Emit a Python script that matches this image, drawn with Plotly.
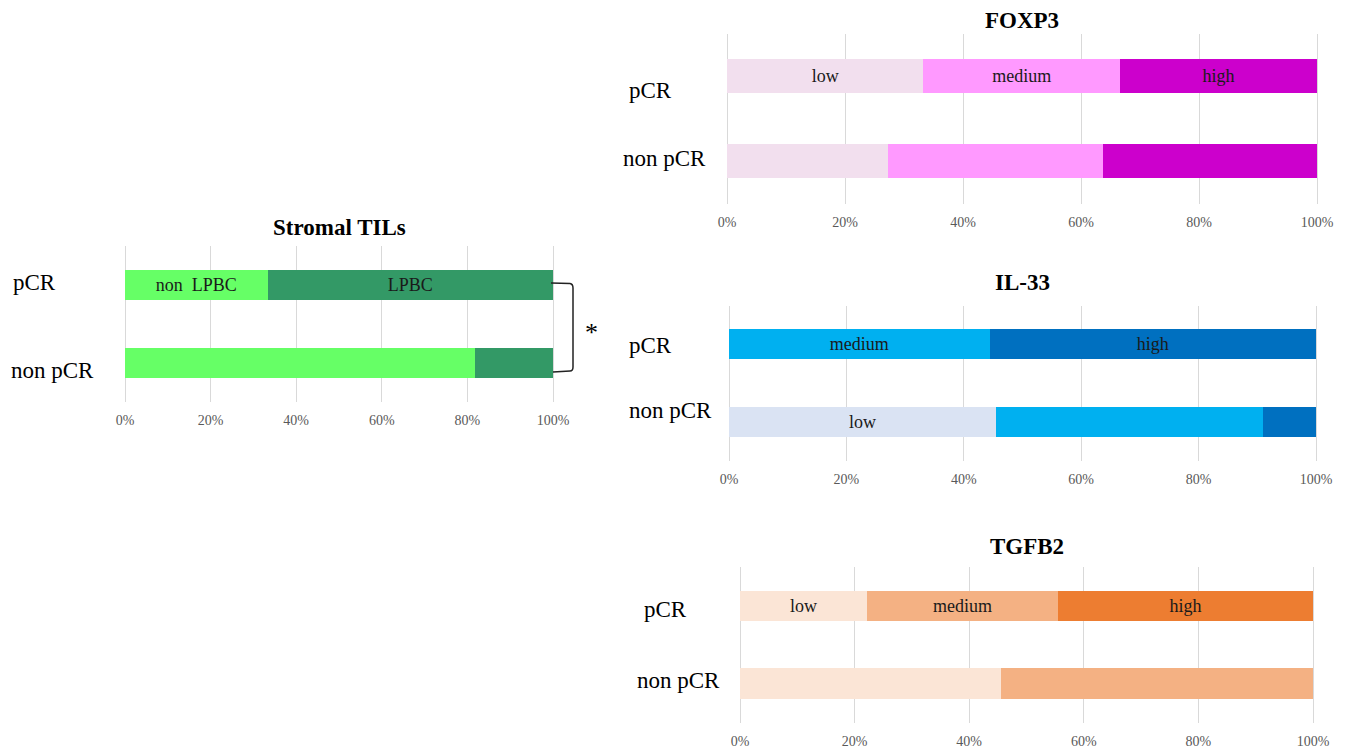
import plotly.graph_objects as go

W, H = 1345, 747

groups = ["non pCR", "pCR"]

# Stromal TILs (% of patients)
til_labels = ["non  LPBC", "LPBC"]
til_non_lpbc = [81.8, 33.3]
til_lpbc = [18.2, 66.7]

# FOXP3 expression (% of patients)
foxp3_low = [27.3, 33.3]
foxp3_medium = [36.4, 33.3]
foxp3_high = [36.3, 33.4]

# IL-33 expression (% of patients)
il33_low = [45.5, 0.0]
il33_medium = [45.4, 44.4]
il33_high = [9.1, 55.6]

# TGFB2 expression (% of patients)
tgfb2_low = [45.5, 22.2]
tgfb2_medium = [54.5, 33.3]
tgfb2_high = [0.0, 44.5]

tick_vals = [0, 20, 40, 60, 80, 100]
tick_text = ["0%", "20%", "40%", "60%", "80%", "100%"]

SERIF = "Liberation Serif"


def px(x):
    return x / W


def py(y):
    return 1 - y / H


fig = go.Figure()


def add_bar(vals, color, texts, axis):
    fig.add_trace(go.Bar(
        y=groups, x=vals, orientation="h",
        marker=dict(color=color, line=dict(width=0)),
        text=texts, textposition="inside", insidetextanchor="middle",
        textfont=dict(family=SERIF, size=18, color="#1a1a1a"),
        constraintext="none",
        xaxis="x" + axis, yaxis="y" + axis,
        showlegend=False, hoverinfo="x+y",
    ))


# Stromal TILs
add_bar(til_non_lpbc, "#66FF66", ["", til_labels[0]], "")
add_bar(til_lpbc, "#339966", ["", til_labels[1]], "")
# FOXP3
add_bar(foxp3_low, "#F2DFEE", ["", "low"], "2")
add_bar(foxp3_medium, "#FF99FF", ["", "medium"], "2")
add_bar(foxp3_high, "#CC00CC", ["", "high"], "2")
# IL-33
add_bar(il33_low, "#DAE3F3", ["low", ""], "3")
add_bar(il33_medium, "#00B0F0", ["", "medium"], "3")
add_bar(il33_high, "#0070C0", ["", "high"], "3")
# TGFB2
add_bar(tgfb2_low, "#FBE5D6", ["", "low"], "4")
add_bar(tgfb2_medium, "#F4B183", ["", "medium"], "4")
add_bar(tgfb2_high, "#ED7D31", ["", "high"], "4")

# panel frames in pixels: (x of 0%, x of 100%, top, bottom)
panels = {
    "": (125, 553, 246, 402),
    "2": (727, 1317, 33.5, 203.5),
    "3": (729, 1316, 305.5, 460.5),
    "4": (740, 1313, 567, 722.5),
}
EDGE = 3  # px of slack so the 0% and 100% grid lines are kept

layout = dict(
    width=W, height=H,
    margin=dict(l=0, r=0, t=0, b=0, autoexpand=False),
    paper_bgcolor="white", plot_bgcolor="white",
    barmode="stack", bargap=0.61,
    font=dict(family=SERIF),
)

for key, (l, r, t, b) in panels.items():
    pad = EDGE * 100.0 / (r - l)
    layout["xaxis" + key] = dict(
        domain=[px(l - EDGE), px(r + EDGE)], range=[-pad, 100 + pad],
        tickmode="array", tickvals=tick_vals, ticktext=tick_text,
        showgrid=True, gridcolor="#D9D9D9", gridwidth=1,
        zeroline=False, showline=False, ticks="",
        ticklabelstandoff=8, automargin=False,
        tickfont=dict(family=SERIF, size=14, color="#595959"),
        anchor="y" + key, fixedrange=True,
    )
    layout["yaxis" + key] = dict(
        domain=[py(b), py(t)], range=[-0.5, 1.5],
        type="category", categoryorder="array", categoryarray=groups,
        showticklabels=False, showgrid=False, zeroline=False,
        showline=False, ticks="", automargin=False,
        anchor="x" + key, fixedrange=True,
    )

fig.update_layout(**layout)

# panel titles
titles = [("Stromal TILs", 339, 227), ("FOXP3", 1022, 20),
          ("IL-33", 1022, 282), ("TGFB2", 1027, 546)]
for txt, x, y in titles:
    fig.add_annotation(text="<b>%s</b>" % txt, x=px(x), y=py(y),
                       xref="paper", yref="paper", showarrow=False,
                       xanchor="center", yanchor="middle",
                       font=dict(family=SERIF, size=23, color="black"))

# group labels beside each panel: (axis, x of pCR, x of non pCR, shifts)
group_labels = [
    ("", 11, 9, 3, -7),
    ("2", 627, 621, -14, 3),
    ("3", 627, 627, -1, 11),
    ("4", 642, 635, -4, 3),
]
for key, x_pcr, x_non, sh_pcr, sh_non in group_labels:
    fig.add_annotation(text="pCR", x=px(x_pcr), y=1, xref="paper",
                       yref="y" + key, yshift=sh_pcr, showarrow=False,
                       xanchor="left", yanchor="middle",
                       font=dict(family=SERIF, size=23, color="black"))
    fig.add_annotation(text="non pCR", x=px(x_non), y=0, xref="paper",
                       yref="y" + key, yshift=sh_non,
                       showarrow=False, xanchor="left", yanchor="middle",
                       font=dict(family=SERIF, size=23, color="black"))

# significance bracket between pCR and non pCR stromal TIL bars
bracket = "M {} {} L {} {} Q {} {} {} {} L {} {} Q {} {} {} {} L {} {}".format(
    px(551), py(283), px(570), py(283.5), px(573), py(284), px(573), py(288),
    px(573), py(367), px(573), py(371), px(570), py(371), px(553), py(372))
fig.add_shape(type="path", path=bracket, xref="paper", yref="paper",
              line=dict(color="#222222", width=1.5))
fig.add_annotation(text="*", x=px(591), y=py(332), xref="paper", yref="paper",
                   showarrow=False, xanchor="center", yanchor="middle",
                   font=dict(family=SERIF, size=26, color="black"))

fig.write_html("out.html")
